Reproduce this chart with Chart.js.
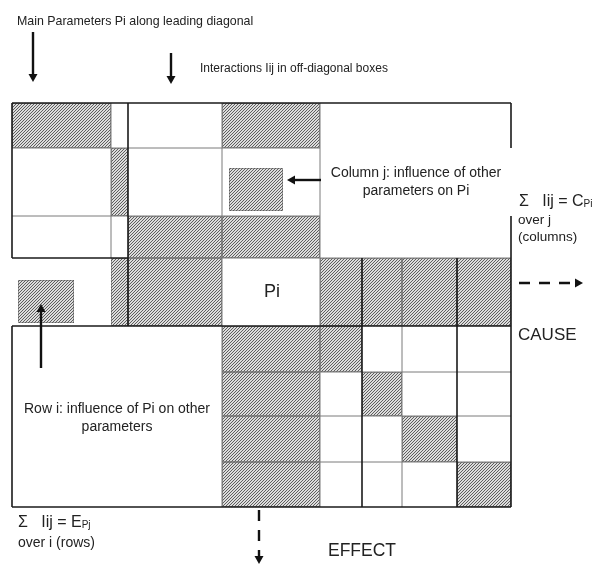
<!DOCTYPE html>
<html>
<head>
<meta charset="utf-8">
<script src="https://cdn.jsdelivr.net/npm/chart.js@4.4.1/dist/chart.umd.min.js"></script>
<style>
  html, body { margin: 0; padding: 0; background: #fff; }
  #wrap { width: 603px; height: 565px; position: relative; }
</style>
</head>
<body>
<div id="wrap"><canvas id="matrix"></canvas></div>
<script>
// grid edges of the interaction matrix (diagram units)
const colEdges = [12, 111, 128, 222, 320, 362, 402, 457, 511];
const rowEdges = [103, 148, 216, 258, 326, 372, 416, 462, 507];

// shaded cells as [column, row]
const diagonalCells = [[0, 0], [1, 1], [2, 2], [4, 4], [5, 5], [6, 6], [7, 7]];
const columnCells = [[3, 0], [3, 2], [3, 4], [3, 5], [3, 6], [3, 7]];
const rowCells = [[1, 3], [2, 3], [4, 3], [5, 3], [6, 3], [7, 3]];
const mainCell = [3, 3];

// loose shaded boxes: [x0, x1, y0, y1]
const looseBoxes = [[229, 283, 168, 211], [18, 74, 280, 323]];

// thin grid lines: [x0, y0, x1, y1]
const thinLines = [
    [111, 103, 111, 258], [12, 148, 320, 148], [12, 216, 320, 216],
    [222, 103, 222, 507], [320, 103, 320, 507], [402, 258, 402, 507],
    [222, 372, 511, 372], [222, 416, 511, 416], [222, 462, 511, 462],
    [128, 258, 511, 258]
];
// heavy lines
const thickLines = [
    [12, 103, 511, 103], [511, 103, 511, 148], [511, 216, 511, 507],
    [12, 103, 12, 258], [12, 258, 128, 258], [128, 103, 128, 326],
    [12, 326, 511, 326], [12, 326, 12, 507], [12, 507, 511, 507],
    [362, 258, 362, 507], [457, 258, 457, 507]
];

// arrows: [x0, y0, x1, y1, dashed]
const arrows = [
    [33, 32, 33, 82, false], [171, 53, 171, 84, false],
    [321, 180, 287, 180, false], [41, 368, 41, 304, false],
    [519, 283, 583, 283, true], [259, 510, 259, 564, true]
];

// text labels: [text, x, y, size, align]
const labels = [
    ['Main Parameters Pi along leading diagonal', 17, 22, 12.4, 'left'],
    ['Interactions Iij in off-diagonal boxes', 200, 69, 12, 'left'],
    ['Column j: influence of other', 416, 173, 14, 'center'],
    ['parameters on Pi', 416, 191, 14, 'center'],
    ['Pi', 272, 292, 18, 'center'],
    ['Row i: influence of Pi on other', 117, 409, 14, 'center'],
    ['parameters', 117, 427, 14, 'center'],
    ['over j', 518, 220, 13.5, 'left'],
    ['(columns)', 518, 237, 13.5, 'left'],
    ['CAUSE', 518, 335, 17, 'left'],
    ['over i (rows)', 18, 543, 14, 'left'],
    ['EFFECT', 328, 551, 17.5, 'left']
];
// sums: [main, subscript, x, y]
const sums = [['\u03A3   Iij = C', 'Pi', 519, 202], ['\u03A3   Iij = E', 'Pj', 18, 523]];

function makeHatch() {
    const c = document.createElement('canvas');
    c.width = 3; c.height = 3;
    const g = c.getContext('2d');
    g.fillStyle = '#dcdcdc';
    g.fillRect(0, 0, 3, 3);
    g.fillStyle = '#5e5e5e';
    g.fillRect(2, 0, 1, 1); g.fillRect(1, 1, 1, 1); g.fillRect(0, 2, 1, 1);
    return g.createPattern(c, 'repeat');
}

const matrixPlugin = {
    id: 'matrixPlugin',
    afterDraw(chart) {
        const ctx = chart.ctx;
        const xs = chart.scales.x, ys = chart.scales.y;
        const px = v => xs.getPixelForValue(v);
        const py = v => ys.getPixelForValue(v);
        const hatch = makeHatch();

        function box(x0, x1, y0, y1) {
            ctx.fillStyle = hatch;
            ctx.fillRect(px(x0), py(y0), px(x1) - px(x0), py(y1) - py(y0));
            ctx.strokeStyle = '#555';
            ctx.lineWidth = 1;
            ctx.setLineDash([1, 1]);
            ctx.strokeRect(px(x0) + 0.5, py(y0) + 0.5, px(x1) - px(x0) - 1, py(y1) - py(y0) - 1);
            ctx.setLineDash([]);
        }
        function cell(c) {
            box(colEdges[c[0]], colEdges[c[0] + 1], rowEdges[c[1]], rowEdges[c[1] + 1]);
        }
        function line(l, color, w) {
            ctx.strokeStyle = color;
            ctx.lineWidth = w;
            ctx.beginPath();
            ctx.moveTo(px(l[0]), py(l[1]));
            ctx.lineTo(px(l[2]), py(l[3]));
            ctx.stroke();
        }

        ctx.save();
        diagonalCells.concat(columnCells, rowCells).forEach(cell);
        looseBoxes.forEach(b => box(b[0], b[1], b[2], b[3]));

        thinLines.forEach(l => line(l, '#7a7a7a', 1));
        thickLines.forEach(l => line(l, '#1a1a1a', 1.6));

        // arrows
        arrows.forEach(a => {
            const x0 = px(a[0]), y0 = py(a[1]), x1 = px(a[2]), y1 = py(a[3]);
            const ang = Math.atan2(y1 - y0, x1 - x0);
            const head = 8;
            ctx.strokeStyle = '#111';
            ctx.fillStyle = '#111';
            ctx.lineWidth = 2.4;
            ctx.setLineDash(a[4] ? [11, 9] : []);
            ctx.beginPath();
            ctx.moveTo(x0, y0);
            ctx.lineTo(x1 - Math.cos(ang) * head, y1 - Math.sin(ang) * head);
            ctx.stroke();
            ctx.setLineDash([]);
            ctx.beginPath();
            ctx.moveTo(x1, y1);
            ctx.lineTo(x1 - Math.cos(ang) * head - Math.sin(ang) * 4.5, y1 - Math.sin(ang) * head + Math.cos(ang) * 4.5);
            ctx.lineTo(x1 - Math.cos(ang) * head + Math.sin(ang) * 4.5, y1 - Math.sin(ang) * head - Math.cos(ang) * 4.5);
            ctx.closePath();
            ctx.fill();
        });

        // labels
        ctx.fillStyle = '#222';
        ctx.textBaseline = 'middle';
        labels.forEach(t => {
            ctx.font = t[3] + 'px "Liberation Sans", Arial, sans-serif';
            ctx.textAlign = t[4];
            ctx.fillText(t[0], px(t[1]), py(t[2]));
        });
        sums.forEach(s => {
            ctx.textAlign = 'left';
            ctx.font = '16px "Liberation Sans", Arial, sans-serif';
            ctx.fillText(s[0], px(s[2]), py(s[3]));
            const w = ctx.measureText(s[0]).width;
            ctx.font = '10px "Liberation Sans", Arial, sans-serif';
            ctx.fillText(s[1], px(s[2]) + w, py(s[3]) + 2);
        });
        ctx.restore();
    }
};

new Chart(document.getElementById('matrix'), {
    type: 'scatter',
    data: { datasets: [] },
    options: {
        responsive: true,
        maintainAspectRatio: false,
        animation: false,
        layout: { padding: 0 },
        plugins: { legend: { display: false }, tooltip: { enabled: false } },
        scales: {
            x: { type: 'linear', min: 0, max: 603, display: false },
            y: { type: 'linear', min: 0, max: 565, reverse: true, display: false }
        }
    },
    plugins: [matrixPlugin]
});
</script>
</body>
</html>
